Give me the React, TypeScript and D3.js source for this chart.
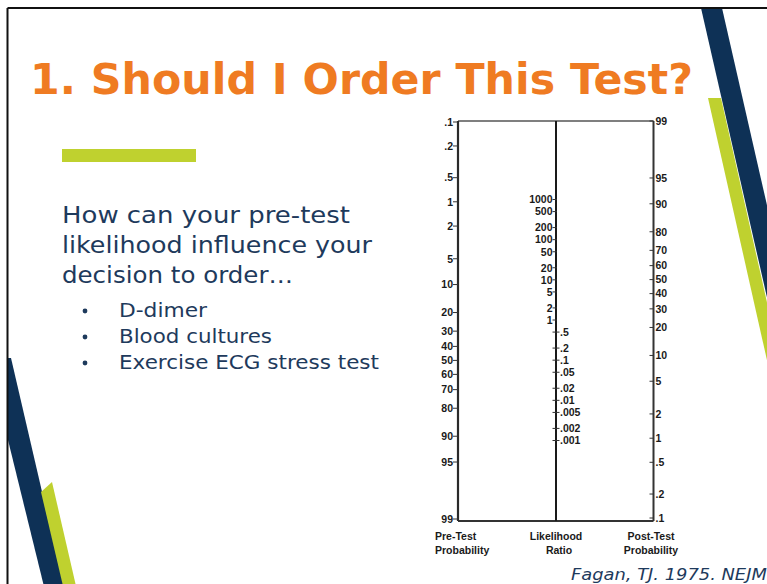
import React from "react";
import * as d3 from "d3";

const preTestTicks = [0.1, 0.2, 0.5, 1, 2, 5, 10, 20, 30, 40, 50, 60, 70, 80, 90, 95, 99];
const postTestTicks = [99, 95, 90, 80, 70, 60, 50, 40, 30, 20, 10, 5, 2, 1, 0.5, 0.2, 0.1];
const lrTicks = [1000, 500, 200, 100, 50, 20, 10, 5, 2, 1, 0.5, 0.2, 0.1, 0.05, 0.02, 0.01, 0.005, 0.002, 0.001];

const bodyLines = ["How can your pre-test", "likelihood influence your", "decision to order…"];
const bulletItems = ["D-dimer", "Blood cultures", "Exercise ECG stress test"];

const W = 767;
const H = 584;

const logit = (p: number) => Math.log(p / (100 - p));
const fmt = (v: number) => (v < 1 ? String(v).replace(/^0/, "") : String(v));

const NAVY = "#0E3156";
const LIME = "#BFD12F";
const TEXT = "#1E3A5C";

export default function App() {
  const yPre = d3.scaleLinear().domain([logit(0.1), logit(99)]).range([122, 519]);
  const yPost = d3.scaleLinear().domain([logit(99), logit(0.1)]).range([121, 518]);
  const yLR = d3.scaleLog().domain([1000, 0.001]).range([199.5, 440.5]);

  const xL = 458;
  const xM = 556;
  const xR = 653.5;
  const yTop = 121;
  const yBot = 521;

  const bodyWidths = [288, 310, 231];
  const bulletWidths = [88, 153, 260];

  const tickFont = { fontFamily: "'Liberation Sans', Arial, sans-serif", fontWeight: 700, fontSize: 10.5, fill: "#1a1a1a" } as const;

  return (
    <svg width={W} height={H} style={{ position: "absolute", left: 0, top: 0, background: "#fff" }}>
      <rect x={0} y={0} width={W} height={H} fill="#fff" />
      {/* decorative stripes */}
      <polygon points={`701,8 722,8 ${722 + 0.228 * 600},608 ${701 + 0.228 * 600},608`} fill={NAVY} />
      <polygon points={`708,98 721,98 ${721 + 0.225 * 500},598 ${708 + 0.225 * 500},598`} fill={LIME} />
      <polygon points={`8,358 11,358 ${11 + 0.232 * 230},588 ${-9 + 0.232 * 230},588 8,440`} fill={NAVY} />
      <polygon points={`41,492 52,482 76,586 63,586`} fill={LIME} />
      {/* slide border */}
      <line x1={7.5} y1={8} x2={W} y2={8} stroke="#111" strokeWidth={2} />
      <line x1={7.5} y1={8} x2={7.5} y2={H} stroke="#111" strokeWidth={2} />

      {/* title */}
      <text x={30} y={94} fill="#EF7B22" fontFamily="'DejaVu Sans', Verdana, sans-serif" fontWeight={700} fontSize={42}
        textLength={663} lengthAdjust="spacingAndGlyphs">1. Should I Order This Test?</text>

      {/* lime bar */}
      <rect x={62} y={149} width={134} height={13} fill={LIME} />

      {/* body text */}
      {bodyLines.map((t, i) => (
        <text key={t} x={62} y={223 + i * 30} fill={TEXT} fontFamily="'DejaVu Sans', Verdana, sans-serif" fontSize={23}
          textLength={bodyWidths[i]} lengthAdjust="spacingAndGlyphs">{t}</text>
      ))}
      {bulletItems.map((t, i) => (
        <g key={t}>
          <circle cx={85} cy={311 + i * 26} r={2.4} fill={TEXT} />
          <text x={119} y={317 + i * 26} fill={TEXT} fontFamily="'DejaVu Sans', Verdana, sans-serif" fontSize={20}
            textLength={bulletWidths[i]} lengthAdjust="spacingAndGlyphs">{t}</text>
        </g>
      ))}

      {/* nomogram frame */}
      <line x1={xL} y1={yTop} x2={xR} y2={yTop} stroke="#555" strokeWidth={1.5} />
      <line x1={xL} y1={yBot} x2={xR} y2={yBot} stroke="#333" strokeWidth={2} />
      <line x1={xL} y1={yTop} x2={xL} y2={yBot} stroke="#2a2a2a" strokeWidth={2.2} />
      <line x1={xR} y1={yTop} x2={xR} y2={yBot} stroke="#333" strokeWidth={2} />
      <line x1={xM} y1={yTop} x2={xM} y2={yBot} stroke="#1a1a1a" strokeWidth={2} />

      {/* pre-test axis */}
      {preTestTicks.map((p) => {
        const y = yPre(logit(p));
        return (
          <g key={"pre" + p}>
            <line x1={453} x2={xL} y1={y} y2={y} stroke="#333" strokeWidth={1} />
            <text x={453} y={y} dy="0.36em" textAnchor="end" {...tickFont}>{fmt(p)}</text>
          </g>
        );
      })}

      {/* likelihood ratio axis */}
      {lrTicks.map((v) => {
        const y = yLR(v);
        const upper = v >= 1;
        return (
          <g key={"lr" + v}>
            <line x1={552.5} x2={upper ? 557 : 559.5} y1={y} y2={y} stroke="#333" strokeWidth={1} />
            <text x={upper ? 552.5 : 560} y={y} dy="0.36em" textAnchor={upper ? "end" : "start"} {...tickFont}>{fmt(v)}</text>
          </g>
        );
      })}

      {/* post-test axis */}
      {postTestTicks.map((p) => {
        const y = yPost(logit(p));
        return (
          <g key={"post" + p}>
            <line x1={649.5} x2={xR} y1={y} y2={y} stroke="#333" strokeWidth={1} />
            <text x={655.5} y={y} dy="0.36em" textAnchor="start" {...tickFont}>{fmt(p)}</text>
          </g>
        );
      })}

      {/* axis titles */}
      <g fontFamily="'Liberation Sans', Arial, sans-serif" fontWeight={700} fontSize={10.5} fill="#1a1a1a">
        <text x={435} y={540}>Pre-Test</text>
        <text x={435} y={554}>Probability</text>
        <text x={556} y={540} textAnchor="middle">Likelihood</text>
        <text x={559} y={554} textAnchor="middle">Ratio</text>
        <text x={651} y={540} textAnchor="middle">Post-Test</text>
        <text x={651} y={554} textAnchor="middle">Probability</text>
      </g>

      {/* citation */}
      <text x={571} y={580} fill={TEXT} fontFamily="'DejaVu Sans', Verdana, sans-serif" fontStyle="italic" fontSize={16}
        textLength={203} lengthAdjust="spacingAndGlyphs">
        Fagan, TJ. 1975. NEJM¹
      </text>
    </svg>
  );
}
